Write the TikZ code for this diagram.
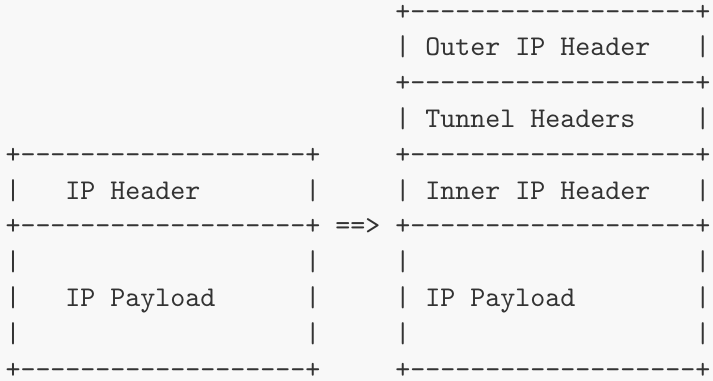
\documentclass[tikz,border=0pt]{standalone}
\definecolor{ink}{RGB}{51,51,51}
\definecolor{paper}{RGB}{248,248,248}
\ExplSyntaxOn
\cs_new:Npn \asciirep #1#2 { \prg_replicate:nn {#1} {#2} }
\ExplSyntaxOff
% runs of hyphens (kept apart so no dash ligature forms) and of blanks
\newcommand\dashes[1]{\asciirep{#1}{-\kern0pt}}
\newcommand\blanks[1]{\asciirep{#1}{\ }}
\newcommand\edge{+\dashes{19}+}
\tikzset{asciiline/.style={anchor=base west, inner sep=0pt, outer sep=0pt,
  text=ink, font=\ttfamily\fontsize{10}{12}\selectfont}}
\begin{document}
\begin{tikzpicture}[x=0.35pt,y=-0.35pt]
\fill[paper] (0,0) rectangle (713,381);
\useasboundingbox (0,0) rectangle (713,381);
\node[asciiline] (l1)  at (5.5,20.1)  {\blanks{26}\edge};
\node[asciiline] (l2)  at (5.5,55.9)  {\blanks{26}|\ Outer IP Header\blanks{3}|};
\node[asciiline] (l3)  at (5.5,91.7)  {\blanks{26}\edge};
\node[asciiline] (l4)  at (5.5,127.5) {\blanks{26}|\ Tunnel Headers\blanks{4}|};
\node[asciiline] (l5)  at (5.5,163.3) {\edge\blanks{5}\edge};
\node[asciiline] (l6)  at (5.5,199.1) {|\blanks{3}IP Header\blanks{7}|\blanks{5}|\ Inner IP Header\blanks{3}|};
\node[asciiline] (l7)  at (5.5,234.9) {\edge\ ==>\ \edge};
\node[asciiline] (l8)  at (5.5,270.7) {|\blanks{19}|\blanks{5}|\blanks{19}|};
\node[asciiline] (l9)  at (5.5,306.5) {|\blanks{3}IP Payload\blanks{6}|\blanks{5}|\ IP Payload\blanks{8}|};
\node[asciiline] (l10) at (5.5,342.3) {|\blanks{19}|\blanks{5}|\blanks{19}|};
\node[asciiline] (l11) at (5.5,378.1) {\edge\blanks{5}\edge};
\end{tikzpicture}
\end{document}
